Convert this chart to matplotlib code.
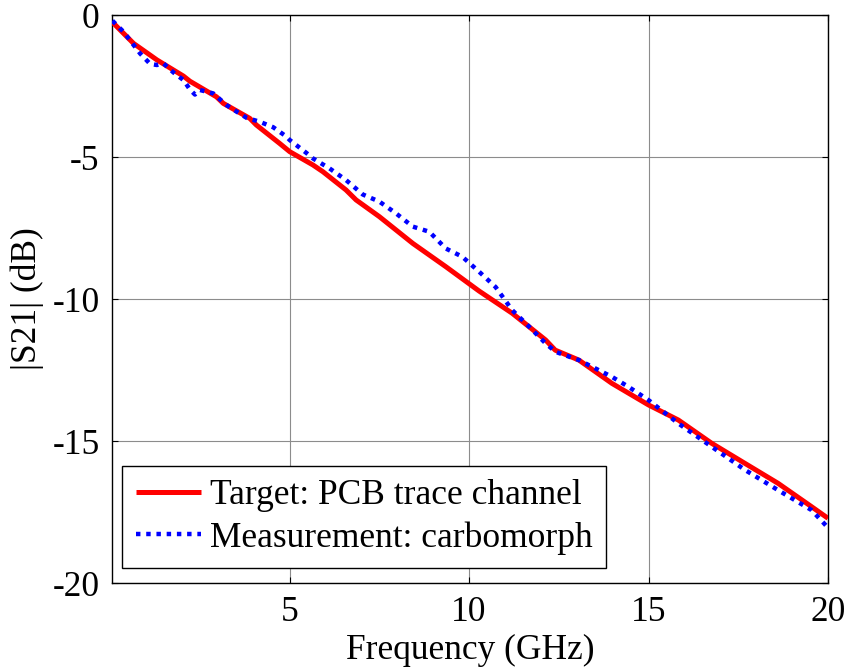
import matplotlib
matplotlib.use("Agg")
import matplotlib.pyplot as plt

# |S21| of the PCB trace target and the carbomorph measurement (dB vs GHz)
freq_target = [0.06, 0.65, 1.11, 1.30, 2.04, 2.22, 2.96, 3.15, 3.89, 4.07, 4.54, 4.72,
               5.00, 5.65, 5.93, 6.57, 6.85, 7.50, 8.43, 9.35, 10.28, 11.20, 12.13,
               12.40, 13.06, 13.98, 15.00, 15.83, 16.76, 17.69, 18.61, 19.54, 20.00]
s21_target = [-0.25, -1.00, -1.41, -1.58, -2.15, -2.33, -2.88, -3.11, -3.64, -3.87, -4.34, -4.52,
              -4.81, -5.28, -5.52, -6.16, -6.51, -7.10, -8.04, -8.86, -9.72, -10.50, -11.44,
              -11.80, -12.15, -12.97, -13.73, -14.26, -15.08, -15.79, -16.49, -17.31, -17.72]

freq_meas = [0.06, 0.37, 0.83, 1.11, 1.30, 1.48, 1.76, 2.04, 2.22, 2.36, 2.50, 2.87,
             3.24, 3.52, 3.80, 4.17, 4.54, 4.91, 5.00, 5.46, 5.65, 6.11, 6.57, 7.04,
             7.50, 7.96, 8.43, 8.89, 9.35, 9.81, 10.28, 10.74, 11.20, 11.67, 12.13,
             12.41, 13.06, 13.98, 14.44, 15.00, 15.83, 16.76, 17.69, 18.61, 19.54, 20.00]
s21_meas = [-0.20, -0.59, -1.35, -1.72, -1.76, -1.70, -2.02, -2.29, -2.62, -2.80, -2.64, -2.76,
            -3.17, -3.40, -3.62, -3.76, -3.95, -4.28, -4.40, -4.85, -5.05, -5.40, -5.81, -6.32,
            -6.57, -6.98, -7.45, -7.63, -8.22, -8.51, -9.04, -9.58, -10.39, -10.97, -11.56,
            -11.86, -12.15, -12.74, -13.09, -13.56, -14.38, -15.20, -16.02, -16.73, -17.43, -18.05]

xticks = [5, 10, 15, 20]
yticks = [0, -5, -10, -15, -20]

plt.rcParams.update({"font.family": ["Liberation Serif", "DejaVu Serif"], "font.size": 25.5,
                     "axes.linewidth": 1.0})
fig = plt.figure(figsize=(8.48, 6.71), dpi=100)
ax = fig.add_axes([0.1321, 0.1311, 0.8443, 0.8465])

ax.plot(freq_target, s21_target, color="#ff0000", lw=3.6, solid_capstyle="butt",
        label="Target: PCB trace channel", zorder=3)
ax.plot(freq_meas, s21_meas, color="#0000ff", lw=3.2, ls=(0, (1.0, 1.3)),
        dash_capstyle="butt", label="Measurement: carbomorph", zorder=4)

ax.set_xlim(0.05, 20)
ax.set_ylim(-20, 0)
ax.set_xticks(xticks)
ax.set_yticks(yticks)
ax.set_yticklabels([str(t) for t in yticks])
ax.tick_params(direction="in", length=4, width=0.8, top=True, right=True, pad=9)
ax.grid(True, color="0.55", lw=0.8)
ax.set_axisbelow(True)

ax.set_xlabel("Frequency (GHz)", labelpad=4)
ax.set_ylabel("|S21| (dB)", labelpad=6)

leg = ax.legend(loc="lower left", bbox_to_anchor=(0.014, 0.026), borderaxespad=0,
                fancybox=False, edgecolor="black", framealpha=1, handlelength=1.85,
                handletextpad=0.26, labelspacing=0.25, borderpad=0.38)
leg.get_frame().set_linewidth(1.0)

fig.savefig("out.png", dpi=100)
